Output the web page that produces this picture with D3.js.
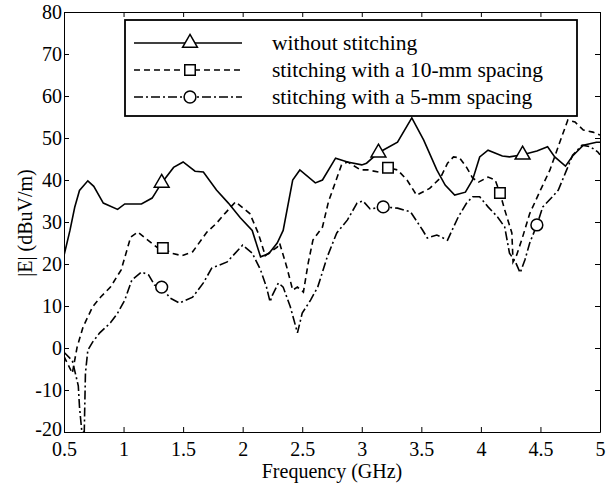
<!DOCTYPE html>
<html>
<head>
<meta charset="utf-8">
<script src="https://cdn.jsdelivr.net/npm/d3@7"></script>
<style>
  body { margin: 0; background: #fff; }
  svg text { font-family: "Liberation Serif", "Times New Roman", Times, "DejaVu Serif", serif !important; fill: #000; }
</style>
</head>
<body>
<div id="chart"></div>
<script>
// series values: [frequency GHz, |E| dBuV/m]
let noStitch = [[0.5,22],[0.55,28],[0.59,33.5],[0.63,37.5],[0.70,39.8],[0.75,38.5],[0.83,34.5],[0.95,33],[1.01,34.3],[1.15,34.3],[1.24,35.7],[1.32,39.3],[1.42,43],[1.50,44.3],[1.60,42.1],[1.67,41.9],[1.78,37.6],[1.88,34.5],[1.98,31],[2.08,28],[2.15,21.7],[2.22,22.5],[2.29,25],[2.34,28],[2.42,40],[2.48,42.4],[2.61,39.3],[2.67,40],[2.78,45.2],[2.88,44.3],[3.0,43.6],[3.04,44],[3.14,46.5],[3.30,49],[3.42,54.8],[3.52,49.5],[3.63,42.4],[3.70,38.8],[3.78,36.4],[3.87,37.1],[3.93,40],[3.99,45.5],[4.06,47.1],[4.18,45.7],[4.24,45.5],[4.35,46],[4.47,46.9],[4.56,47.9],[4.62,45.5],[4.71,43.3],[4.77,45.7],[4.86,48.3],[4.97,49],[5,49]];

let stitch10 = [[0.5,-2],[0.57,-6],[0.61,0.2],[0.66,5],[0.74,9.8],[0.81,12.2],[0.89,14.5],[0.98,18.6],[1.06,26.4],[1.12,27.6],[1.18,26.2],[1.28,24],[1.33,23.8],[1.41,22.5],[1.49,22],[1.58,22.9],[1.70,27.6],[1.78,29.7],[1.85,32],[1.94,34.8],[2.06,32],[2.13,27.4],[2.19,22],[2.29,24],[2.31,25],[2.37,19.3],[2.42,13.8],[2.46,14.5],[2.51,13.3],[2.55,20.2],[2.59,25.7],[2.67,28.8],[2.72,34.8],[2.83,43.6],[2.88,44.3],[2.99,42.4],[3.05,42.4],[3.14,41.9],[3.22,42.9],[3.30,42.4],[3.38,40],[3.46,36.4],[3.57,38],[3.66,40.5],[3.72,44],[3.77,45.5],[3.82,45.3],[3.88,43],[3.93,40.5],[3.98,39.5],[4.06,40.7],[4.12,40],[4.16,36.9],[4.20,32.9],[4.26,27.4],[4.27,20.5],[4.30,22.1],[4.35,26.4],[4.41,32],[4.50,37.6],[4.58,42.4],[4.66,48.8],[4.73,54.3],[4.79,53.8],[4.86,51.9],[4.94,51.4],[5,50.7]];

let stitch5 = [[0.5,-1],[0.57,-3],[0.62,-9],[0.63,-14],[0.65,-20],[0.67,-20],[0.68,-6],[0.70,-0.5],[0.74,1.4],[0.80,3.6],[0.89,6],[0.95,8.3],[1.01,11.4],[1.07,16.2],[1.15,18.1],[1.21,17.4],[1.26,15],[1.32,14.5],[1.39,11.9],[1.47,10.7],[1.58,12.1],[1.67,15.5],[1.74,19],[1.87,20.5],[2.0,24.5],[2.08,22.6],[2.15,18.6],[2.20,14.5],[2.23,11],[2.25,12.6],[2.30,15.5],[2.34,14.5],[2.40,9.8],[2.46,3.6],[2.50,8.3],[2.57,11.4],[2.63,14.5],[2.71,21.7],[2.79,27.4],[2.88,30.5],[2.96,34.5],[3.01,35],[3.07,33.1],[3.18,33.6],[3.30,33.3],[3.41,32.4],[3.51,28.1],[3.55,26.2],[3.63,26.9],[3.72,25.7],[3.81,31.2],[3.88,34.5],[3.93,36],[3.99,36],[4.06,33.6],[4.14,31.2],[4.20,28.8],[4.24,22.6],[4.29,20.5],[4.33,17.9],[4.37,21],[4.41,25],[4.47,29.3],[4.52,33.6],[4.60,36],[4.65,37.6],[4.72,42.4],[4.77,45.9],[4.85,48.3],[4.92,47.9],[4.98,46.7],[5,46]];

// marker positions
let triMarks = [[1.32,39.3],[3.14,46.5],[4.35,46]];
let sqMarks = [[1.33,23.8],[3.22,42.9],[4.16,36.9]];
let circMarks = [[1.32,14.5],[3.18,33.6],[4.47,29.3]];

let xTicks = [0.5, 1, 1.5, 2, 2.5, 3, 3.5, 4, 4.5, 5];
let yTicks = [-20, -10, 0, 10, 20, 30, 40, 50, 60, 70, 80];
let legendLabels = ["without stitching", "stitching with a 10-mm spacing", "stitching with a 5-mm spacing"];

// set the dimensions and margins of the graph
let margin = {top: 12, right: 9, bottom: 57, left: 64},
    width = 609 - margin.left - margin.right,
    height = 489 - margin.top - margin.bottom;

let svg = d3.select("#chart")
    .append("svg")
    .attr("width", 609)
    .attr("height", 489)
    .append("g")
    .attr("transform", "translate(" + margin.left + "," + margin.top + ")");

let x = d3.scaleLinear().domain([0.5, 5]).range([0, width]);
let y = d3.scaleLinear().domain([-20, 80]).range([height, 0]);

// clip so the deep dip stops at the axis
svg.append("clipPath").attr("id", "plotClip")
    .append("rect").attr("width", width).attr("height", height);

// axes with inward ticks on all four sides
let fmt = d => String(d);
let bottom = svg.append("g")
    .attr("transform", "translate(0," + height + ")")
    .call(d3.axisBottom(x).tickValues(xTicks).tickFormat(fmt).tickSizeInner(-5).tickSizeOuter(0).tickPadding(10));
let left = svg.append("g")
    .call(d3.axisLeft(y).tickValues(yTicks).tickFormat(fmt).tickSizeInner(-5).tickSizeOuter(0).tickPadding(2));
svg.append("g")
    .call(d3.axisTop(x).tickValues(xTicks).tickFormat("").tickSizeInner(-5).tickSizeOuter(0));
svg.append("g")
    .attr("transform", "translate(" + width + ",0)")
    .call(d3.axisRight(y).tickValues(yTicks).tickFormat("").tickSizeInner(-5).tickSizeOuter(0));

svg.selectAll("g").attr("font-family", null);
svg.selectAll(".domain").attr("stroke", "#000");
svg.selectAll(".tick line").attr("stroke", "#000");
bottom.selectAll("text").style("font-size", "20px");
left.selectAll("text").style("font-size", "20px").attr("dy", d => d === -20 ? "0.15em" : "0.3em");

// axis labels
svg.append("text")
    .attr("x", width / 2)
    .attr("y", height + 46)
    .attr("text-anchor", "middle")
    .style("font-size", "20px")
    .text("Frequency (GHz)");

svg.append("text")
    .attr("transform", "rotate(-90)")
    .attr("x", -height / 2 - 1)
    .attr("y", -32)
    .attr("text-anchor", "middle")
    .style("font-size", "20px")
    .text("|E| (dBuV/m)");

let line = d3.line()
    .x(d => x(d[0]))
    .y(d => y(d[1]));

let styles = [
    {data: noStitch, dash: null, marks: triMarks, shape: d3.symbolTriangle},
    {data: stitch10, dash: "6,4", marks: sqMarks, shape: d3.symbolSquare},
    {data: stitch5, dash: "9,3,2,3", marks: circMarks, shape: d3.symbolCircle}
];

let plot = svg.append("g").attr("clip-path", "url(#plotClip)");

styles.forEach(function(s) {
    plot.append("path")
        .datum(s.data)
        .attr("fill", "none")
        .attr("stroke", "#000")
        .attr("stroke-width", 1.6)
        .attr("stroke-dasharray", s.dash)
        .attr("d", line);
});

styles.forEach(function(s) {
    svg.selectAll(null)
        .data(s.marks)
        .enter()
        .append("path")
        .attr("transform", d => "translate(" + x(d[0]) + "," + y(d[1]) + ")")
        .attr("d", d3.symbol().type(s.shape).size(s.shape === d3.symbolTriangle ? 95 : 110))
        .attr("fill", "#fff")
        .attr("stroke", "#000")
        .attr("stroke-width", 1.5);
});

// legend
let lg = svg.append("g").attr("transform", "translate(" + (125 - margin.left) + "," + (20 - margin.top) + ")");
lg.append("rect")
    .attr("width", 452)
    .attr("height", 96)
    .attr("fill", "#fff")
    .attr("stroke", "#000")
    .attr("stroke-width", 1.8);

styles.forEach(function(s, i) {
    let yy = 23 + i * 27;
    lg.append("line")
        .attr("x1", 9).attr("x2", 117)
        .attr("y1", yy).attr("y2", yy)
        .attr("stroke", "#000")
        .attr("stroke-width", 1.6)
        .attr("stroke-dasharray", s.dash);
    lg.append("path")
        .attr("transform", "translate(65," + yy + ")")
        .attr("d", d3.symbol().type(s.shape).size(s.shape === d3.symbolTriangle ? 95 : 110))
        .attr("fill", "#fff")
        .attr("stroke", "#000")
        .attr("stroke-width", 1.5);
    lg.append("text")
        .attr("x", 147)
        .attr("y", yy)
        .attr("dy", "0.32em")
        .style("font-size", "21.5px")
        .text(legendLabels[i]);
});
</script>
</body>
</html>
